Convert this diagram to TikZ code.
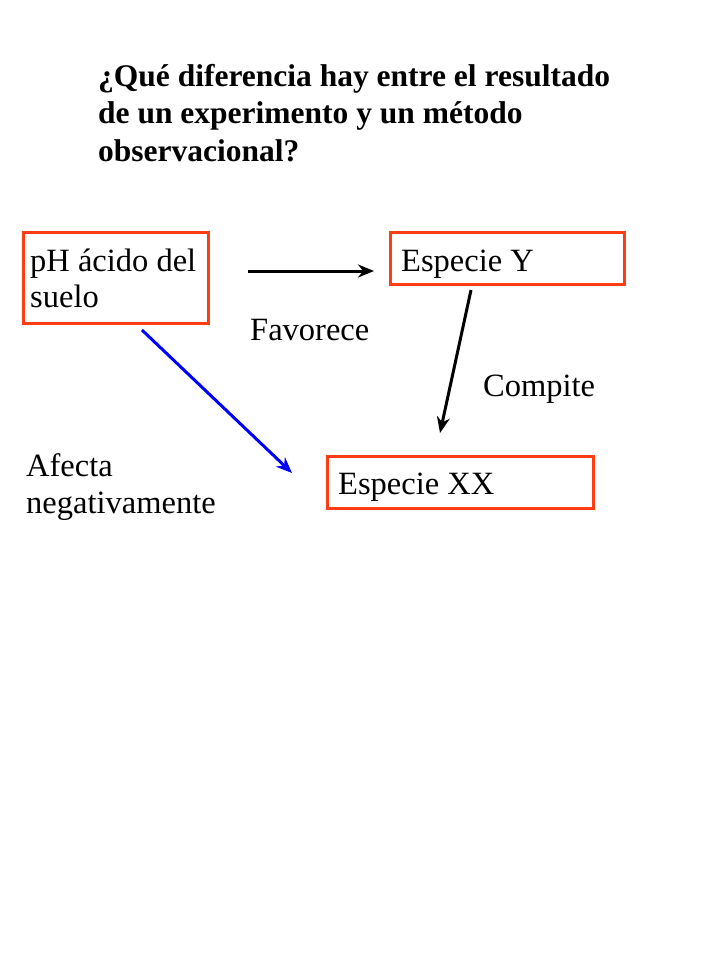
\documentclass[tikz,border=0pt]{standalone}
\usepackage{fontspec}
\usetikzlibrary{arrows.meta}
\setmainfont{Liberation Serif}
\definecolor{boxred}{HTML}{FF3C14}
\begin{document}
\begin{tikzpicture}[x=1pt,y=-1pt,
  txt/.style={font=\fontsize{32.5}{35}\selectfont,anchor=base west,inner sep=0pt},
  ttl/.style={font=\fontsize{31.5}{35}\selectfont\bfseries,anchor=base west,inner sep=0pt},
  bx/.style={draw=boxred,line width=3pt},
  arr/.style={line width=3pt,-{Stealth[length=16pt,width=13pt]}}]
\useasboundingbox (0,0) rectangle (720,960);
\fill[white] (0,0) rectangle (720,960);
\node[ttl] (t1) at (98,87) {¿Qué diferencia hay entre el resultado};
\node[ttl] (t2) at (98,124) {de un experimento y un método};
\node[ttl] (t3) at (98,161) {observacional?};
\draw[bx] (23,232) rectangle (208,323);
\draw[bx] (390,232) rectangle (624,284);
\draw[bx] (327,456) rectangle (593,508);
\node[txt] (ph1) at (30,271) {pH ácido del};
\node[txt] (ph2) at (30,307) {suelo};
\node[txt] (ey) at (401,271) {Especie Y};
\node[txt] (ex) at (338,494) {Especie XX};
\node[txt] (fav) at (250,340) {Favorece};
\node[txt] (comp) at (483,396) {Compite};
\node[txt] (af1) at (26,476) {Afecta};
\node[txt] (af2) at (26,513) {negativamente};
\coordinate (a1) at (248,271); \coordinate (a2) at (374,271);
\coordinate (b1) at (471,290); \coordinate (b2) at (440,433);
\coordinate (c1) at (142,330); \coordinate (c2) at (292,473);
\draw[arr] (a1) -- (a2);
\draw[arr] (b1) -- (b2);
\draw[arr,blue] (c1) -- (c2);
\end{tikzpicture}
\end{document}
